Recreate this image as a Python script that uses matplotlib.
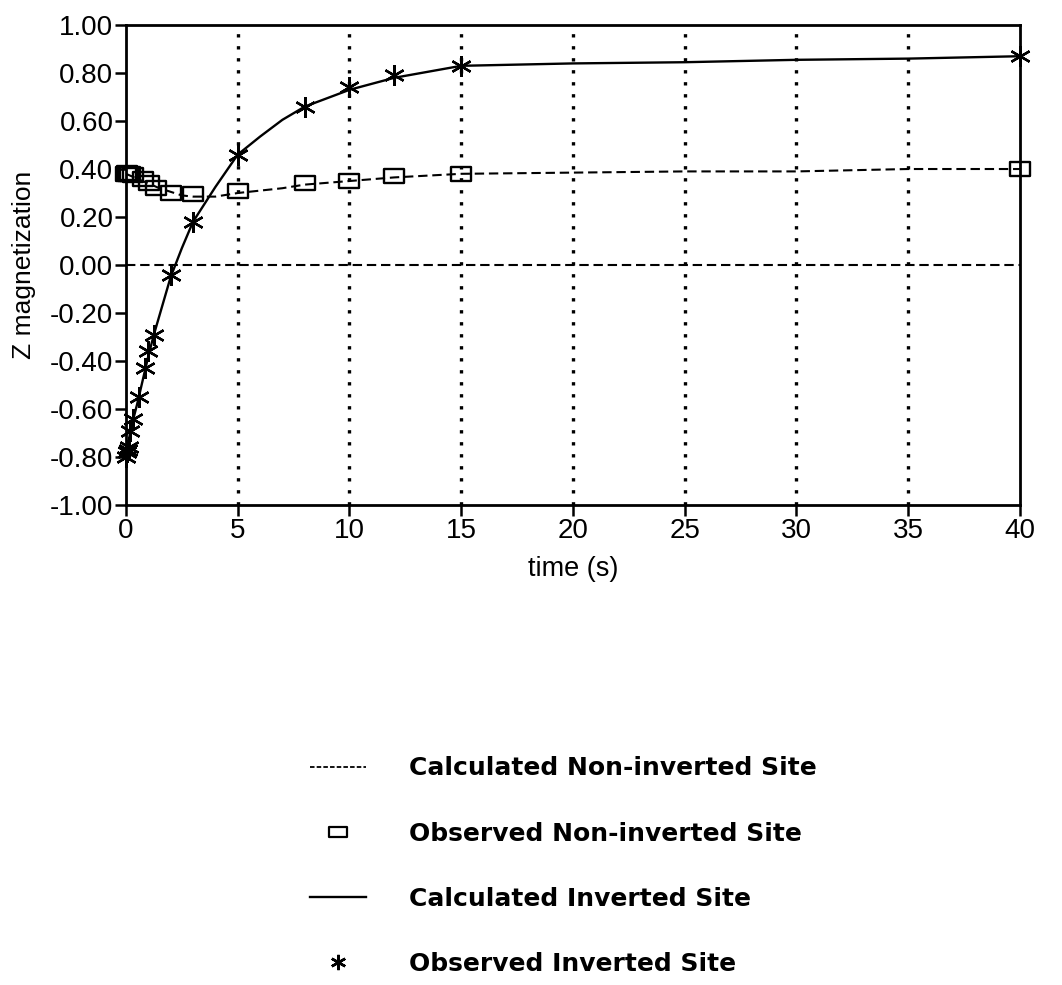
import numpy as np
import matplotlib.pyplot as plt
from matplotlib.lines import Line2D
from matplotlib.path import Path

plt.rcParams["font.family"] = ["Liberation Sans", "DejaVu Sans"]
plt.rcParams["axes.unicode_minus"] = False

# -------------------------------
# Observed data (time in s, Z magnetization)
# -------------------------------
t_obs_inv = [0, 0.05, 0.1, 0.15, 0.2, 0.3, 0.6, 0.85, 1.0, 1.25, 2, 3, 5, 8, 10, 12, 15, 40]
z_obs_inv = [-0.80, -0.78, -0.77, -0.76, -0.69, -0.64, -0.55, -0.43, -0.36, -0.29,
             -0.04, 0.18, 0.46, 0.66, 0.74, 0.79, 0.83, 0.87]

t_obs_non = [0, 0.05, 0.1, 0.2, 0.3, 0.75, 1.05, 1.35, 2, 3, 5, 8, 10, 12, 15, 40]
z_obs_non = [0.38, 0.385, 0.38, 0.38, 0.375, 0.36, 0.34, 0.32, 0.30, 0.295,
             0.31, 0.34, 0.35, 0.37, 0.38, 0.40]

# -------------------------------
# Calculated curves
# -------------------------------
t_calc = [0, 0.25, 0.5, 0.75, 1.0, 1.25, 1.5, 2.0, 2.5, 3.0, 4.0, 5.0, 6.0, 7.0, 8.0,
          10, 12, 15, 20, 25, 30, 35, 40]
z_calc_inv = [-0.79, -0.67, -0.58, -0.48, -0.38, -0.29, -0.21, -0.05, 0.07, 0.18, 0.325,
              0.46, 0.535, 0.605, 0.66, 0.73, 0.78, 0.83, 0.84, 0.845, 0.855, 0.86, 0.87]
z_calc_non = [0.38, 0.37, 0.36, 0.35, 0.34, 0.33, 0.32, 0.305, 0.29, 0.285, 0.285,
              0.30, 0.31, 0.32, 0.335, 0.35, 0.365, 0.38, 0.385, 0.39, 0.39, 0.40, 0.40]

x_ticks = [0, 5, 10, 15, 20, 25, 30, 35, 40]
y_ticks = [-1.0, -0.8, -0.6, -0.4, -0.2, 0.0, 0.2, 0.4, 0.6, 0.8, 1.0]

labels = ["Calculated Non-inverted Site", "Observed Non-inverted Site",
          "Calculated Inverted Site", "Observed Inverted Site"]

# -------------------------------
# Marker shapes
# -------------------------------
asterisk = (6, 2, 0)
box = Path([(-1.4, -1), (1.4, -1), (1.4, 1), (-1.4, 1), (-1.4, -1)],
           [Path.MOVETO, Path.LINETO, Path.LINETO, Path.LINETO, Path.CLOSEPOLY])
flat_box = Path([(-1.8, -1), (1.8, -1), (1.8, 1), (-1.8, 1), (-1.8, -1)],
                [Path.MOVETO, Path.LINETO, Path.LINETO, Path.LINETO, Path.CLOSEPOLY])

dash_style = (0, (4.5, 2.3))

# -------------------------------
# Plot
# -------------------------------
fig = plt.figure(figsize=(10.62, 9.85), dpi=100)
ax = fig.add_axes([0.1186, 0.4873, 0.8418, 0.4873])

# grid: dotted verticals and dashed zero line
for xv in x_ticks[1:-1]:
    ax.axvline(xv, color="k", linestyle=(0, (1, 2.6)), linewidth=2.4, zorder=1)
ax.axhline(0, color="k", linestyle=dash_style, linewidth=1.5, zorder=1)

ax.plot(t_calc, z_calc_non, color="k", linestyle=dash_style, linewidth=1.5, zorder=2)
ax.plot(t_calc, z_calc_inv, color="k", linestyle="-", linewidth=1.7, zorder=2)
ax.plot(t_obs_non, z_obs_non, linestyle="none", marker=box, markersize=15,
        markerfacecolor="none", markeredgecolor="k", markeredgewidth=1.7, zorder=3,
        clip_on=False)
ax.plot(t_obs_inv, z_obs_inv, linestyle="none", marker=asterisk, markersize=15,
        markeredgecolor="k", markeredgewidth=1.7, zorder=3, clip_on=False)

ax.set_xlim(0, 40)
ax.set_ylim(-1, 1)
ax.set_xticks(x_ticks)
ax.set_yticks(y_ticks)
ax.set_yticklabels([f"{v:.2f}" for v in y_ticks])
ax.tick_params(direction="out", length=8, width=1.8, labelsize=20, pad=1, color="k")
for sp in ax.spines.values():
    sp.set_linewidth(2)

ax.set_xlabel("time (s)", fontsize=19.5, labelpad=9)
ax.set_ylabel("Z magnetization", fontsize=19, labelpad=10)

# -------------------------------
# Legend
# -------------------------------
handles = [
    Line2D([], [], color="k", linestyle=(0, (2.5, 1.2)), linewidth=1.3),
    Line2D([], [], linestyle="none", marker=flat_box, markersize=13,
           markerfacecolor="none", markeredgecolor="k", markeredgewidth=1.6),
    Line2D([], [], color="k", linestyle="-", linewidth=1.7),
    Line2D([], [], linestyle="none", marker=asterisk, markersize=11,
           markeredgecolor="k", markeredgewidth=1.8),
]
fig.legend(handles, labels, loc="upper left", bbox_to_anchor=(0.292, 0.232),
           frameon=False, prop={"family": "DejaVu Sans", "size": 18, "weight": "bold"},
           handlelength=2.25, handletextpad=1.7, labelspacing=1.65,
           borderaxespad=0, borderpad=0)

plt.savefig("out.png", dpi=100)
